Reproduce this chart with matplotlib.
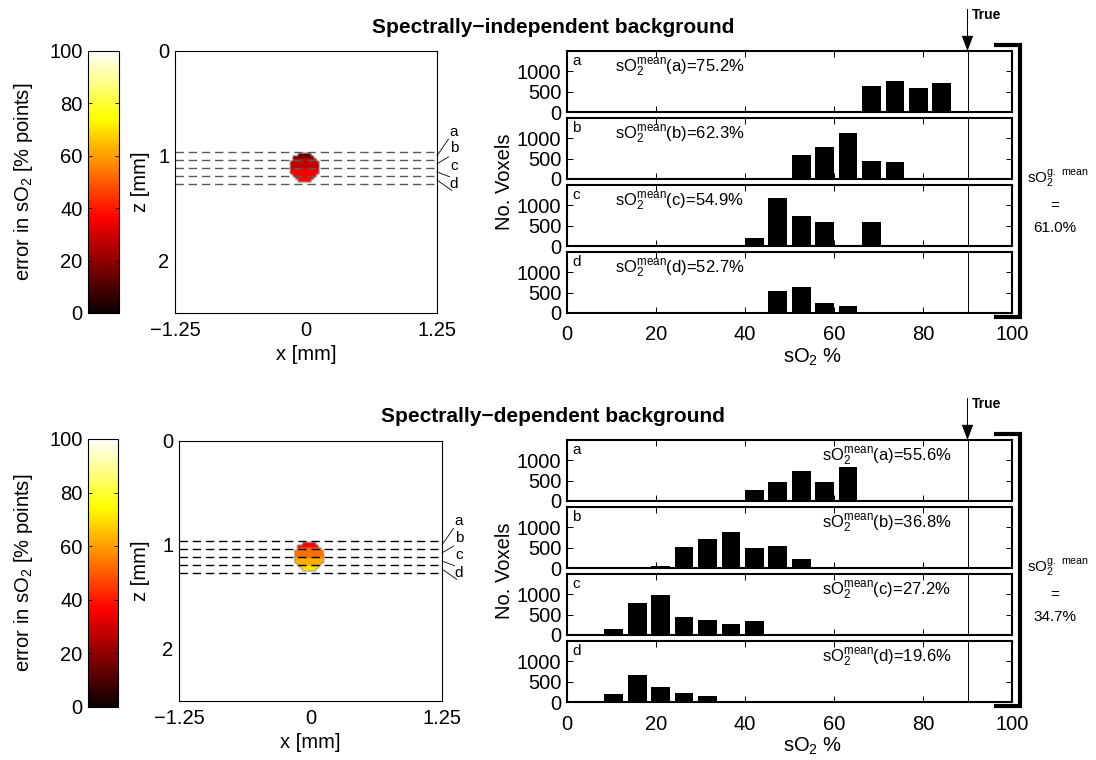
import numpy as np
import matplotlib
matplotlib.use('Agg')
import matplotlib.pyplot as plt
from matplotlib.lines import Line2D

plt.rcParams['font.family'] = ['Liberation Sans', 'DejaVu Sans']
plt.rcParams['mathtext.default'] = 'regular'

W, H = 1096, 760

# histogram bin centres (hist(x, linspace(0,100,20)))
bin_centres = np.linspace(0, 100, 20)
slice_names = ['a', 'b', 'c', 'd']
true_so2 = 90

# voxel counts per bin, spectrally-independent background
indep_a = [0, 0, 0, 0, 0, 0, 0, 0, 0, 0, 0, 0, 20, 650, 770, 580, 720, 0, 0, 0]
indep_b = [0, 0, 0, 0, 0, 0, 0, 0, 0, 30, 580, 780, 1130, 440, 410, 25, 0, 0, 0, 0]
indep_c = [0, 0, 0, 0, 0, 0, 0, 0, 185, 1180, 740, 590, 25, 600, 0, 0, 0, 0, 0, 0]
indep_d = [0, 0, 0, 0, 0, 0, 0, 0, 25, 535, 650, 245, 170, 0, 0, 0, 0, 0, 0, 0]
indep_means = [75.2, 62.3, 54.9, 52.7]
indep_gmean = 61.0

# voxel counts per bin, spectrally-dependent background
dep_a = [0, 0, 0, 0, 0, 0, 0, 0, 270, 455, 740, 465, 830, 0, 0, 0, 0, 0, 0, 0]
dep_b = [0, 0, 0, 0, 60, 517, 705, 875, 492, 540, 213, 0, 0, 0, 0, 0, 0, 0, 0, 0]
dep_c = [0, 0, 137, 790, 983, 451, 379, 266, 355, 0, 0, 0, 0, 0, 0, 0, 0, 0, 0, 0]
dep_d = [0, 20, 200, 669, 379, 218, 153, 0, 0, 0, 0, 0, 0, 0, 0, 0, 0, 0, 0, 0]
dep_means = [55.6, 36.8, 27.2, 19.6]
dep_gmean = 34.7

# vessel and slice geometry [mm]
vessel_x, vessel_z, vessel_r = -0.015, 1.11, 0.14
slice_edges = [0.96, 1.0375, 1.115, 1.1925, 1.27]


def px_axes(fig, x0, y0, x1, y1):
    return fig.add_axes([x0 / W, 1 - y1 / H, (x1 - x0) / W, (y1 - y0) / H])


def ftext(fig, x, y, s, **kw):
    fig.text(x / W, 1 - y / H, s, **kw)


def error_map(means):
    n = 100
    c = -1.25 + 2.5 / n * (np.arange(n) + 0.5)
    zc = 2.5 / n * (np.arange(n) + 0.5)
    X, Z = np.meshgrid(c, zc)
    idx = np.clip(np.digitize(Z, slice_edges) - 1, 0, 3)
    err = true_so2 - np.array(means)[idx]
    inside = (X - vessel_x) ** 2 + (Z - vessel_z) ** 2 <= vessel_r ** 2
    return np.ma.masked_where(~inside, err)


def draw_row(fig, y0, title, cb_box, img_box, counts, means, gmean,
             mean_x, dash_col):
    # colour bar + error image
    ax = px_axes(fig, *img_box)
    im = ax.imshow(error_map(means), extent=(-1.25, 1.25, 2.5, 0),
                   origin='upper', cmap='hot', vmin=0, vmax=100,
                   interpolation='bilinear', aspect='auto')
    ax.set_xlim(-1.25, 1.25)
    ax.set_ylim(2.5, 0)
    ax.set_xticks([-1.25, 0, 1.25])
    ax.set_xticklabels(['\u22121.25', '0', '1.25'])
    ax.set_yticks([0, 1, 2])
    ax.tick_params(length=0, labelsize=14.5, pad=6)
    ax.tick_params(axis='y', pad=4)
    for s in ax.spines.values():
        s.set_linewidth(0.8)
    for z in slice_edges:
        ax.axhline(z, color=dash_col, lw=1, ls=(0, (6, 3.5)))
    ends = [(1.36, 0.84), (1.36, 1.01), (1.37, 1.20), (1.39, 1.33)]
    labs = [0.77, 0.93, 1.10, 1.27]
    for k in range(4):
        zm = 0.5 * (slice_edges[k] + slice_edges[k + 1])
        ax.plot([1.25, ends[k][0]], [zm, ends[k][1]], color='k', lw=0.6,
                clip_on=False)
        ax.text(1.41, labs[k], slice_names[k], fontsize=11, ha='center',
                va='center', clip_on=False)
    ix0, iy0, ix1, iy1 = img_box
    ftext(fig, 141, (iy0 + iy1) / 2, 'z [mm]', rotation=90, ha='center',
          va='center', fontsize=14.5)
    ftext(fig, (ix0 + ix1) / 2, iy1 + 41, 'x [mm]', ha='center',
          va='center', fontsize=14.5)

    cax = px_axes(fig, *cb_box)
    cb = fig.colorbar(im, cax=cax, ticks=[0, 20, 40, 60, 80, 100])
    cb.outline.set_linewidth(0.8)
    cax.yaxis.set_ticks_position('both')
    cax.tick_params(direction='in', length=3, width=0.6, labelleft=True,
                    labelright=False, labelsize=14.5, pad=4)
    cx0, cy0, cx1, cy1 = cb_box
    ftext(fig, 24, (cy0 + cy1) / 2, 'error in sO$_2$ [% points]',
          rotation=90, ha='center', va='center', fontsize=14.5)

    # histograms
    ftext(fig, 553, y0 - 18, title, ha='center', va='baseline',
          fontsize=15, fontweight='bold')
    hx0, hx1 = 567, 1012
    ph, gap = 61, 6
    hax = []
    for k in range(4):
        top = y0 + k * (ph + gap)
        a = px_axes(fig, hx0, top, hx1, top + ph)
        a.bar(bin_centres, counts[k], width=0.8 * (100 / 19), color='k',
              edgecolor='none')
        a.axvline(true_so2, color='k', lw=0.7)
        a.set_xlim(0, 100)
        a.set_ylim(0, 1500)
        a.set_xticks([0, 20, 40, 60, 80, 100])
        a.set_yticks([0, 500, 1000])
        a.tick_params(direction='in', length=4, width=0.7, top=True,
                      right=True, labelsize=14.5, pad=4)
        a.tick_params(axis='x', pad=9, labelbottom=(k == 3))
        for s in a.spines.values():
            s.set_linewidth(1.5)
        a.text(0.012, 0.84, slice_names[k], transform=a.transAxes,
               fontsize=11, ha='left', va='center')
        a.text((mean_x - hx0) / (hx1 - hx0), 0.72,
               'sO$_2^{mean}$(%s)=%.1f%%' % (slice_names[k], means[k]),
               transform=a.transAxes, fontsize=12, ha='left', va='center')
        hax.append(a)

    hb = y0 + 4 * ph + 3 * gap
    ftext(fig, 505, (y0 + hb) / 2, 'No. Voxels', rotation=90, ha='center',
          va='center', fontsize=14.5)
    ftext(fig, 813, hb + 44, 'sO$_2$ %', ha='center', va='center',
          fontsize=14.5)

    # true value marker
    hax[0].annotate('', xy=(true_so2, 1), xycoords=('data', 'axes fraction'),
                    xytext=(0, 30), textcoords='offset points',
                    arrowprops=dict(arrowstyle='-|>,head_length=0.8,head_width=0.3',
                                    color='k', lw=0.7, mutation_scale=12,
                                    shrinkA=0, shrinkB=0))
    hax[0].annotate('True', xy=(true_so2, 1), xycoords=('data', 'axes fraction'),
                    xytext=(3, 26), textcoords='offset points', fontsize=10,
                    fontweight='bold', ha='left', va='center')

    # bracket and grand mean
    bx = np.array([996, 1020, 1020, 996])
    by = np.array([y0 - 6, y0 - 6, hb + 4, hb + 4])
    fig.add_artist(Line2D(bx / W, 1 - by / H, color='k', lw=3,
                          solid_joinstyle='miter', transform=fig.transFigure))
    mid = (y0 + hb) / 2
    ftext(fig, 1058, mid - 4, 'sO$_2^{g.\\ mean}$', ha='center', va='center',
          fontsize=11)
    ftext(fig, 1055, mid + 24, '=', ha='center', va='center', fontsize=11)
    ftext(fig, 1055, mid + 46, '%.1f%%' % gmean, ha='center', va='center',
          fontsize=11)


fig = plt.figure(figsize=(W / 100, H / 100), dpi=100)

draw_row(fig, 51, 'Spectrally\u2212independent background',
         (88, 51, 119, 313), (175, 51, 437, 313),
         [indep_a, indep_b, indep_c, indep_d], indep_means, indep_gmean,
         615, '0.35')
draw_row(fig, 440, 'Spectrally\u2212dependent background',
         (88, 439, 118, 707), (179, 441, 442, 701),
         [dep_a, dep_b, dep_c, dep_d], dep_means, dep_gmean,
         822, 'k')

fig.savefig('out.png', dpi=100, facecolor='white')
